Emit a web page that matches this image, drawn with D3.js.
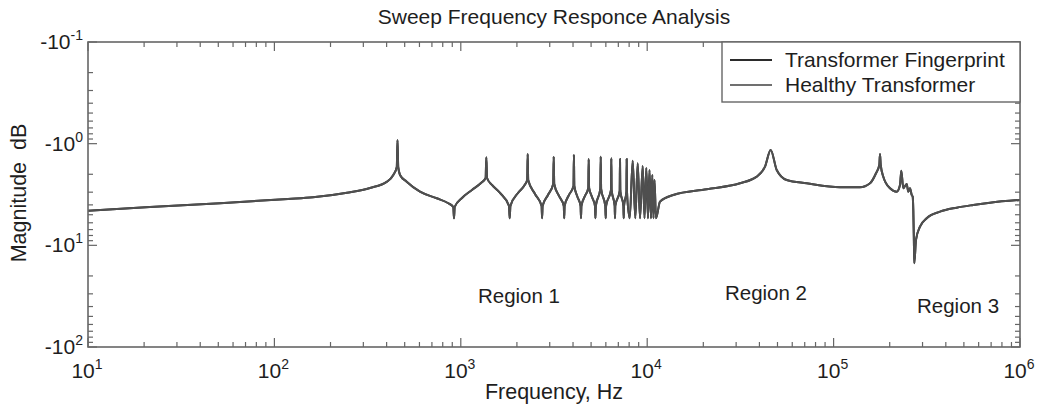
<!DOCTYPE html>
<html>
<head>
<meta charset="utf-8">
<script src="https://cdn.jsdelivr.net/npm/d3@7"></script>
<style>
  body { margin: 0; background: #fff; }
  text { font-family: "Liberation Sans", Arial, sans-serif; fill: #1e1e1e; }
</style>
</head>
<body>
<svg id="chart" width="1037" height="410"></svg>
<script>
// frequency points (Hz)
const freqHz = [
  10, 21.5, 51.1, 118.3, 161.1, 245.2, 325.8, 401.9, 434.4, 453.6, 457.5, 461.5, 471.9, 512.5, 604.0, 742.6, 857.1, 911.5, 919.4, 927.4,
  1015, 1148, 1283, 1359, 1370.6, 1382.5, 1470, 1623, 1814, 1829.6, 1845.5, 2027, 2183, 2271, 2285, 2299, 2501, 2713, 2730, 2747,
  2936, 3132, 3151, 3171, 3364, 3569, 3587, 3604, 3806, 4024, 4044, 4064, 4227, 4392, 4414, 4436, 4637, 4831, 4855, 4879,
  5057, 5248, 5274, 5300, 5604, 5632, 5660, 5960, 5990, 6019, 6395, 6419, 6443, 6693, 6718, 6743, 7120, 7147, 7173, 7453,
  7481, 7509, 7734, 7763, 7792, 8056, 8360, 8633, 8893, 9149, 9459, 9672, 9889, 10099, 10288, 10481, 10650, 10809, 10943, 11148,
  11713, 13804, 20857, 31467, 38677, 42848, 45978, 49520, 56028, 71730, 108230, 138550, 156780, 168850, 175880, 177410, 178950, 184770, 200720, 218000,
  227120, 230780, 236560, 246690, 251610, 256950, 262400, 265670, 267640, 269960, 270960, 276710, 290740, 315840, 372250, 457510, 561660, 690350, 1000000
];

// magnitude (plotted as -|dB| on a log axis)
const fingerprintMag = [
  4.560, 4.194, 3.855, 3.498, 3.365, 3.033, 2.726, 2.364, 2.031, 1.695, 0.920, 1.695, 2.031, 2.364, 2.965, 3.443, 3.855, 4.194, 5.414, 4.194,
  3.420, 2.853, 2.435, 2.175, 1.361, 2.175, 2.547, 3.054, 4.100, 5.414, 4.100, 3.054, 2.606, 2.275, 1.263, 2.275, 3.123, 4.100, 5.414, 4.100,
  3.195, 2.491, 1.342, 2.491, 3.268, 4.100, 5.414, 4.100, 3.195, 2.606, 1.291, 2.606, 3.343, 4.100, 5.414, 4.100, 3.268, 2.726, 1.415, 2.726,
  3.343, 4.100, 5.414, 4.100, 2.789, 1.342, 2.789, 4.100, 5.414, 4.100, 2.853, 1.392, 2.853, 4.100, 5.414, 4.100, 2.918, 1.415, 2.918, 4.100,
  5.414, 4.100, 2.985, 1.415, 2.985, 5.414, 1.469, 5.414, 1.558, 5.414, 1.657, 5.414, 1.734, 5.414, 1.814, 5.414, 2.031, 5.414, 2.275, 5.414,
  3.718, 3.195, 2.808, 2.452, 2.111, 1.683, 1.153, 1.814, 2.275, 2.452, 2.683, 2.683, 2.452, 1.954, 1.620, 1.263, 1.620, 2.111, 2.745, 2.965,
  2.547, 1.843, 2.745, 2.491, 2.965, 2.745, 3.195, 3.320, 4.488, 10.30, 15.00, 8.850, 6.549, 5.414, 4.665, 4.261, 4.007, 3.803, 3.578
];

// the healthy trace lies exactly on top of the fingerprint in the figure
const healthyMag = fingerprintMag;

const seriesNames = ["Transformer Fingerprint", "Healthy Transformer"];
const seriesColors = ["#2b2b2b", "#707070"];
const xTickExp = [1, 2, 3, 4, 5, 6];
const yTickExp = [-1, 0, 1, 2];
const regionNames = ["Region 1", "Region 2", "Region 3"];
const regionFreq = [2052, 43380, 465000];
const regionMag = [36.8, 34.4, 46.2];

const svg = d3.select("#chart");
const width = 1037;
const height = 410;
const margin = { top: 42, right: 17, bottom: 63, left: 88 };
const x0 = margin.left, x1 = width - margin.right;
const y0 = margin.top, y1 = height - margin.bottom;

const xScale = d3.scaleLog().domain([10, 1e6]).range([x0, x1]);
const yScale = d3.scaleLog().domain([0.1, 100]).range([y0, y1]);

const axisColor = "#666";

// minor + major ticks, inward on all four sides
const xMinor = [];
for (let e = 1; e < 6; e++) for (let k = 2; k <= 9; k++) xMinor.push(k * Math.pow(10, e));
const yMinor = [];
for (let e = -1; e < 2; e++) for (let k = 2; k <= 9; k++) yMinor.push(k * Math.pow(10, e));

const ticks = svg.append("g").attr("stroke", axisColor).attr("stroke-width", 1.2);
xMinor.forEach(v => {
  const px = xScale(v);
  ticks.append("line").attr("x1", px).attr("x2", px).attr("y1", y1).attr("y2", y1 - 5);
  ticks.append("line").attr("x1", px).attr("x2", px).attr("y1", y0).attr("y2", y0 + 5);
});
xTickExp.forEach(e => {
  const px = xScale(Math.pow(10, e));
  ticks.append("line").attr("x1", px).attr("x2", px).attr("y1", y1).attr("y2", y1 - 9);
  ticks.append("line").attr("x1", px).attr("x2", px).attr("y1", y0).attr("y2", y0 + 9);
});
yMinor.forEach(v => {
  const py = yScale(v);
  ticks.append("line").attr("x1", x0).attr("x2", x0 + 5).attr("y1", py).attr("y2", py);
  ticks.append("line").attr("x1", x1).attr("x2", x1 - 5).attr("y1", py).attr("y2", py);
});
yTickExp.forEach(e => {
  const py = yScale(Math.pow(10, e));
  ticks.append("line").attr("x1", x0).attr("x2", x0 + 9).attr("y1", py).attr("y2", py);
  ticks.append("line").attr("x1", x1).attr("x2", x1 - 9).attr("y1", py).attr("y2", py);
});

// curves
svg.append("clipPath").attr("id", "plotClip")
  .append("rect").attr("x", x0).attr("y", y0).attr("width", x1 - x0).attr("height", y1 - y0);

const line = d3.line()
  .x((_, i) => xScale(freqHz[i]))
  .y(d => yScale(d))
  .curve(d3.curveMonotoneX);

[fingerprintMag, healthyMag].forEach((vals, s) => {
  svg.append("path")
    .datum(vals)
    .attr("clip-path", "url(#plotClip)")
    .attr("fill", "none")
    .attr("stroke", s === 0 ? seriesColors[0] : "#4f4f4f")
    .attr("stroke-width", 2)
    .attr("stroke-linejoin", "round")
    .attr("d", line);
});

// frame
svg.append("rect")
  .attr("x", x0).attr("y", y0)
  .attr("width", x1 - x0).attr("height", y1 - y0)
  .attr("fill", "none").attr("stroke", axisColor).attr("stroke-width", 1.6);

// tick labels with superscripts
xTickExp.forEach(e => {
  const t = svg.append("text")
    .attr("x", xScale(Math.pow(10, e)) - 1)
    .attr("y", y1 + 31)
    .attr("text-anchor", "middle")
    .attr("font-size", "21px");
  t.append("tspan").text("10");
  t.append("tspan").attr("dy", -9).attr("font-size", "14px").text(e);
});

yTickExp.forEach(e => {
  const t = svg.append("text")
    .attr("x", x0 - 5)
    .attr("y", yScale(Math.pow(10, e)) + 7)
    .attr("text-anchor", "end")
    .attr("font-size", "21px");
  t.append("tspan").text("-10");
  t.append("tspan").attr("dy", -9).attr("font-size", "14px").text(e);
});

// region annotations
regionNames.forEach((name, i) => {
  svg.append("text")
    .attr("x", xScale(regionFreq[i]))
    .attr("y", yScale(regionMag[i]))
    .attr("text-anchor", "middle")
    .attr("font-size", "20.5px")
    .text(name);
});

// titles
svg.append("text")
  .attr("x", (x0 + x1) / 2)
  .attr("y", 24)
  .attr("text-anchor", "middle")
  .attr("font-size", "21px")
  .text("Sweep Frequency Responce Analysis");

svg.append("text")
  .attr("x", (x0 + x1) / 2)
  .attr("y", 399)
  .attr("text-anchor", "middle")
  .attr("font-size", "21.5px")
  .text("Frequency, Hz");

svg.append("text")
  .attr("transform", "rotate(-90)")
  .attr("x", -193)
  .attr("y", 26)
  .attr("text-anchor", "middle")
  .attr("font-size", "21.5px")
  .attr("xml:space", "preserve")
  .style("white-space", "pre")
  .text("Magnitude  dB");

// legend
const legend = svg.append("g");
legend.append("rect")
  .attr("x", 722).attr("y", y0)
  .attr("width", x1 - 722).attr("height", 60)
  .attr("fill", "#fff").attr("stroke", axisColor).attr("stroke-width", 1.4);
seriesNames.forEach((name, i) => {
  const ly = y0 + 18 + i * 25;
  legend.append("line")
    .attr("x1", 730).attr("x2", 772)
    .attr("y1", ly).attr("y2", ly)
    .attr("stroke", seriesColors[i]).attr("stroke-width", 1.8);
  legend.append("text")
    .attr("x", 785).attr("y", ly + 7)
    .attr("font-size", "21px")
    .text(name);
});
</script>
</body>
</html>
